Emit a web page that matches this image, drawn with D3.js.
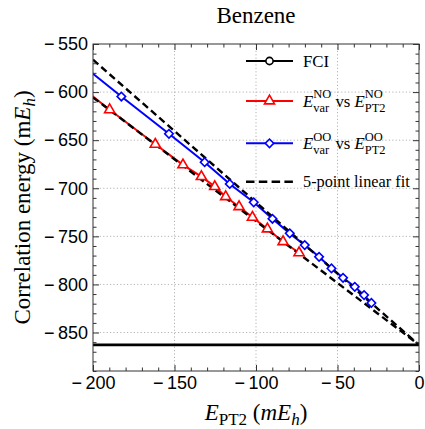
<!DOCTYPE html>
<html>
<head>
<meta charset="utf-8">
<script src="https://cdnjs.cloudflare.com/ajax/libs/d3/7.8.5/d3.min.js"></script>
<style>
    body { margin: 0; background: #fff; }
    svg { display: block; }
    text { white-space: pre; }
    .tick text { font-family: "Liberation Sans", Arial, sans-serif; font-size: 18px; fill: #000; }
</style>
</head>
<body>
<script>
// Data (mE_h)
const NO_PT2 = [ -210, -189.8, -161.8, -144.8, -133.5, -125.3, -118.6, -110.4, -102.2, -93.0, -83.4, -73.6 ];
const NO_VAR = [ -591.2, -618.4, -654.3, -675.7, -687.9, -698.3, -708.8, -719.2, -730.2, -742.3, -755.6, -767.1 ];

const OO_PT2 = [ -210, -182.6, -153.4, -131.5, -116.1, -101.4, -89.9, -79.3, -70.1, -61.3, -53.7, -46.6, -39.4, -33.7, -29.2 ];
const OO_VAR = [ -567.3, -604.6, -643.4, -672.9, -695.5, -714.6, -731.7, -746.9, -759.1, -771.3, -783.3, -793.1, -802.5, -811.1, -819.2 ];

// 5-point linear fits, read at both ends of the x range
const FIT_X = [ -200, 0 ];
const FIT_NO = [ -605.5, -862.8 ];
const FIT_OO = [ -566.4, -862.8 ];

const FCI = -862.8;

const X_TICKS = [ -200, -150, -100, -50, 0 ];
const Y_TICKS = [ -850, -800, -750, -700, -650, -600, -550 ];

const SERIF = '"Liberation Serif", "Times New Roman", Times, serif';

const CONFIG = {
    width: 425,
    height: 429,
    margin: { top: 44, right: 6, bottom: 58, left: 93 },
    xDomain: [ -200, 0 ],
    yDomain: [ -890, -550 ]
};

// Draws a run of text pieces; a piece may carry a stacked sup/sub pair
function drawRich(g, x, y, parts, size, opts = {}) {
    const scale = opts.scale || 0.74;
    const supUp = opts.supUp || 0.5;
    const subDown = opts.subDown || 0.33;
    const small = size * scale;
    let cx = x;
    parts.forEach(p => {
        if (p.t !== undefined) {
            const t = g.append("text")
                .attr("x", cx).attr("y", y)
                .style("font-family", SERIF)
                .style("font-size", size + "px")
                .style("font-style", p.it ? "italic" : "normal")
                .text(p.t);
            cx += t.node().getComputedTextLength();
        } else {
            let w = 0;
            if (p.sup) {
                const t = g.append("text")
                    .attr("x", cx).attr("y", y - size * supUp)
                    .style("font-family", SERIF)
                    .style("font-size", small + "px")
                    .text(p.sup);
                w = Math.max(w, t.node().getComputedTextLength());
            }
            if (p.sub) {
                const t = g.append("text")
                    .attr("x", cx).attr("y", y + size * subDown)
                    .style("font-family", SERIF)
                    .style("font-size", small + "px")
                    .style("font-style", p.subIt ? "italic" : "normal")
                    .text(p.sub);
                w = Math.max(w, t.node().getComputedTextLength());
            }
            cx += w;
        }
    });
    return cx - x;
}

class BenzeneChart {
    constructor(config) {
        this.config = config;
        const m = config.margin;
        this.innerW = config.width - m.left - m.right;
        this.innerH = config.height - m.top - m.bottom;
        this.x = d3.scaleLinear().domain(config.xDomain).range([ m.left, m.left + this.innerW ]);
        this.y = d3.scaleLinear().domain(config.yDomain).range([ m.top + this.innerH, m.top ]);
        this.svg = d3.select("body").append("svg")
            .attr("width", config.width)
            .attr("height", config.height);
    }

    render() {
        this.drawGrid();
        this.drawSeries();
        this.drawFrame();
        this.drawLegend();
        this.drawLabels();
    }

    drawGrid() {
        const g = this.svg.append("g")
            .attr("stroke", "#b4b4b4")
            .attr("stroke-width", 1)
            .attr("stroke-dasharray", "1.2,2.2");
        X_TICKS.slice(1, -1).forEach(v => {
            g.append("line")
                .attr("x1", this.x(v)).attr("x2", this.x(v))
                .attr("y1", this.y.range()[1]).attr("y2", this.y.range()[0]);
        });
        Y_TICKS.slice(0, -1).forEach(v => {
            g.append("line")
                .attr("x1", this.x.range()[0]).attr("x2", this.x.range()[1])
                .attr("y1", this.y(v)).attr("y2", this.y(v));
        });
    }

    drawSeries() {
        const m = this.config.margin;
        this.svg.append("clipPath").attr("id", "plotClip")
            .append("rect")
            .attr("x", m.left).attr("y", m.top)
            .attr("width", this.innerW).attr("height", this.innerH);

        const plot = this.svg.append("g").attr("clip-path", "url(#plotClip)");
        const line = d3.line().x(d => this.x(d[0])).y(d => this.y(d[1]));

        const noPts = NO_PT2.map((v, i) => [ v, NO_VAR[i] ]);
        const ooPts = OO_PT2.map((v, i) => [ v, OO_VAR[i] ]);

        // FCI reference
        plot.append("path")
            .attr("d", line(this.x.domain().map(v => [ v, FCI ])))
            .attr("stroke", "#000").attr("stroke-width", 2.8).attr("fill", "none");

        plot.append("path").attr("d", line(noPts))
            .attr("stroke", "#ff0000").attr("stroke-width", 2).attr("fill", "none");
        plot.append("path").attr("d", line(ooPts))
            .attr("stroke", "#0000ff").attr("stroke-width", 2).attr("fill", "none");

        [ FIT_NO, FIT_OO ].forEach(fit => {
            plot.append("path")
                .attr("d", line(FIT_X.map((v, i) => [ v, fit[i] ])))
                .attr("stroke", "#000").attr("stroke-width", 2.4)
                .attr("stroke-dasharray", "7,4").attr("fill", "none");
        });

        const tri = d3.symbol().type(d3.symbolTriangle).size(44);
        plot.selectAll(".tri").data(noPts).enter().append("path")
            .attr("d", tri)
            .attr("transform", d => `translate(${this.x(d[0])},${this.y(d[1])})`)
            .attr("fill", "#fff").attr("stroke", "#ff0000").attr("stroke-width", 1.6);

        const dia = d3.symbol().type(d3.symbolSquare).size(36);
        plot.selectAll(".dia").data(ooPts).enter().append("path")
            .attr("d", dia)
            .attr("transform", d => `translate(${this.x(d[0])},${this.y(d[1])}) rotate(45)`)
            .attr("fill", "#fff").attr("stroke", "#0000ff").attr("stroke-width", 1.6);
    }

    drawFrame() {
        const [ x0, x1 ] = this.x.range();
        const [ y0, y1 ] = this.y.range();
        const xMinor = d3.range(-200, 1, 10).filter(v => !X_TICKS.includes(v));
        const yMinor = d3.range(-890, -549, 10).filter(v => !Y_TICKS.includes(v));

        const spaceMinus = sel => sel.selectAll(".tick text").each(function () {
            const s = d3.select(this);
            const txt = s.text();
            if (txt.startsWith("−")) {
                s.text(null);
                s.append("tspan").text("−");
                s.append("tspan").attr("dx", 3.5).text(txt.slice(1));
            }
        });

        const styleAxis = sel => {
            sel.select(".domain").remove();
            sel.selectAll(".tick line").attr("stroke", "#333").attr("stroke-width", 1);
        };

        // bottom
        this.svg.append("g").attr("transform", `translate(0,${y0})`)
            .call(d3.axisBottom(this.x).tickValues(xMinor).tickSize(-3.5).tickFormat(""))
            .call(styleAxis);
        this.svg.append("g").attr("transform", `translate(0,${y0})`)
            .call(d3.axisBottom(this.x).tickValues(X_TICKS).tickSize(-6).tickPadding(5.5))
            .call(styleAxis).call(spaceMinus);
        // top
        this.svg.append("g").attr("transform", `translate(0,${y1})`)
            .call(d3.axisTop(this.x).tickValues(xMinor).tickSize(-3.5).tickFormat(""))
            .call(styleAxis);
        this.svg.append("g").attr("transform", `translate(0,${y1})`)
            .call(d3.axisTop(this.x).tickValues(X_TICKS).tickSize(-6).tickFormat(""))
            .call(styleAxis);
        // left
        this.svg.append("g").attr("transform", `translate(${x0},0)`)
            .call(d3.axisLeft(this.y).tickValues(yMinor).tickSize(-3.5).tickFormat(""))
            .call(styleAxis);
        this.svg.append("g").attr("transform", `translate(${x0},0)`)
            .call(d3.axisLeft(this.y).tickValues(Y_TICKS).tickSize(-6).tickPadding(5))
            .call(styleAxis).call(spaceMinus);
        // right
        this.svg.append("g").attr("transform", `translate(${x1},0)`)
            .call(d3.axisRight(this.y).tickValues(yMinor).tickSize(-3.5).tickFormat(""))
            .call(styleAxis);
        this.svg.append("g").attr("transform", `translate(${x1},0)`)
            .call(d3.axisRight(this.y).tickValues(Y_TICKS).tickSize(-6).tickFormat(""))
            .call(styleAxis);

        this.svg.append("rect")
            .attr("x", x0).attr("y", y1)
            .attr("width", x1 - x0).attr("height", y0 - y1)
            .attr("fill", "none").attr("stroke", "#333").attr("stroke-width", 1);
    }

    drawLegend() {
        const g = this.svg.append("g");
        const lx0 = 246, lx1 = 293, tx = 303, size = 16.8;
        const rows = [
            { y: 61, color: "#000", marker: "circle", parts: [ { t: "FCI" } ] },
            { y: 101, color: "#ff0000", marker: "tri",
              parts: [ { t: "E", it: true }, { sup: "NO", sub: "var" }, { t: " vs " }, { t: "E", it: true }, { sup: "NO", sub: "PT2" } ] },
            { y: 143.3, color: "#0000ff", marker: "dia",
              parts: [ { t: "E", it: true }, { sup: "OO", sub: "var" }, { t: " vs " }, { t: "E", it: true }, { sup: "OO", sub: "PT2" } ] },
            { y: 181.7, color: "#000", dashed: true, parts: [ { t: "5-point linear fit" } ] }
        ];
        const cx = (lx0 + lx1) / 2;
        rows.forEach(r => {
            g.append("line")
                .attr("x1", lx0).attr("x2", lx1).attr("y1", r.y).attr("y2", r.y)
                .attr("stroke", r.color).attr("stroke-width", r.dashed ? 2.4 : 2)
                .attr("stroke-dasharray", r.dashed ? "8.5,4.3" : null);
            if (r.marker === "circle") {
                g.append("circle").attr("cx", cx).attr("cy", r.y).attr("r", 3.6)
                    .attr("fill", "#fff").attr("stroke", r.color).attr("stroke-width", 1.6);
            } else if (r.marker === "tri") {
                g.append("path").attr("d", d3.symbol().type(d3.symbolTriangle).size(44)())
                    .attr("transform", `translate(${cx},${r.y})`)
                    .attr("fill", "#fff").attr("stroke", r.color).attr("stroke-width", 1.6);
            } else if (r.marker === "dia") {
                g.append("path").attr("d", d3.symbol().type(d3.symbolSquare).size(36)())
                    .attr("transform", `translate(${cx},${r.y}) rotate(45)`)
                    .attr("fill", "#fff").attr("stroke", r.color).attr("stroke-width", 1.6);
            }
            drawRich(g, tx, r.y + 5.6, r.parts, r.dashed ? 16.3 : size);
        });
    }

    drawLabels() {
        const [ x0, x1 ] = this.x.range();
        const [ y0, y1 ] = this.y.range();
        const size = 23;
        const labelOpts = { scale: 0.74, subDown: 0.22 };

        this.svg.append("text")
            .attr("x", (x0 + x1) / 2).attr("y", 23)
            .attr("text-anchor", "middle")
            .style("font-family", SERIF)
            .style("font-size", "23px")
            .text("Benzene");

        // x label
        const gx = this.svg.append("g");
        const wx = drawRich(gx, 0, 0, [
            { t: "E", it: true }, { sub: "PT2" }, { t: " (" }, { t: "mE", it: true }, { sub: "h", subIt: true }, { t: ")" }
        ], size, labelOpts);
        gx.attr("transform", `translate(${(x0 + x1) / 2 - wx / 2},419.5)`);

        // y label
        const gy = this.svg.append("g");
        const wy = drawRich(gy, 0, 0, [
            { t: "Correlation energy (m" }, { t: "E", it: true }, { sub: "h", subIt: true }, { t: ")" }
        ], size, labelOpts);
        gy.attr("transform", `translate(30,${(y0 + y1) / 2 + wy / 2}) rotate(-90)`);
    }
}

document.addEventListener("DOMContentLoaded", () => {
    const chart = new BenzeneChart(CONFIG);
    chart.render();
});
</script>
</body>
</html>
